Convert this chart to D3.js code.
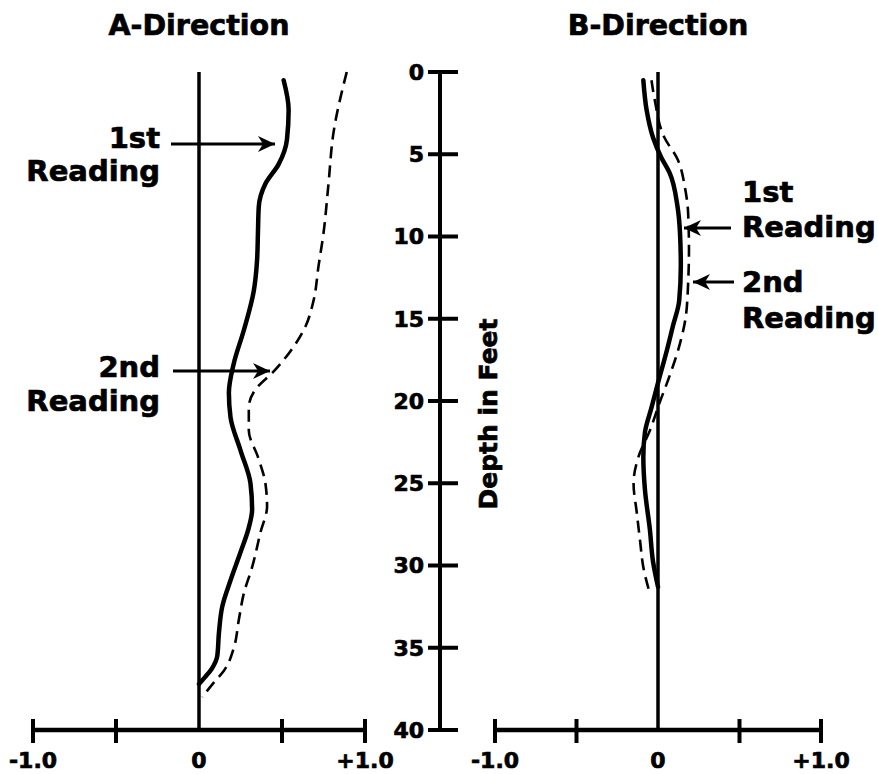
<!DOCTYPE html>
<html>
<head>
<meta charset="utf-8">
<script src="https://cdn.jsdelivr.net/npm/d3@7"></script>
<style>
  html, body { margin: 0; padding: 0; background: #fff; }
  svg { display: block; }
  text { font-family: "DejaVu Sans", sans-serif; font-weight: bold; fill: #000; stroke: #000; stroke-width: 0.7px; }
</style>
</head>
<body>
<svg id="chart" width="878" height="774"></svg>
<script>
// ---------- DATA ----------
const panelTitles = ["A-Direction", "B-Direction"];
const depthTicks = [0, 5, 10, 15, 20, 25, 30, 35, 40];
const xTicks = [-1, -0.5, 0, 0.5, 1];
const xTickLabels = ["-1.0", "", "0", "", "+1.0"];
const depthLabel = "Depth in Feet";

// A-Direction, 1st reading (solid)
const aFirstDepth = [0.5, 2.3, 4.1, 5.6, 6.8, 8.2, 9.8, 11.4, 13.3, 15.7, 17.7, 19.5, 21.0, 23.0, 25.0, 26.6, 27.7, 29.2, 30.9, 32.5, 34.1, 35.5, 36.3, 36.8, 37.2];
const aFirstValue = [0.51, 0.54, 0.53, 0.48, 0.40, 0.36, 0.355, 0.35, 0.33, 0.27, 0.21, 0.18, 0.19, 0.25, 0.31, 0.32, 0.30, 0.25, 0.19, 0.14, 0.12, 0.11, 0.075, 0.035, 0.0];
// A-Direction, 2nd reading (dashed)
const aSecondDepth = [0, 3.7, 6.8, 9.8, 11.8, 13.9, 15.5, 16.7, 18.2, 19.3, 20.4, 21.8, 23.4, 25.0, 26.4, 28.0, 30.1, 31.7, 33.3, 35.0, 36.4, 37.1, 38.0];
const aSecondValue = [0.89, 0.81, 0.78, 0.75, 0.72, 0.69, 0.64, 0.57, 0.45, 0.34, 0.30, 0.30, 0.355, 0.40, 0.41, 0.37, 0.32, 0.27, 0.24, 0.21, 0.15, 0.09, 0.02];
// B-Direction, 1st reading (solid)
const bFirstDepth = [0.5, 2.3, 4.0, 5.2, 6.1, 8.2, 9.8, 11.8, 13.9, 15.5, 16.9, 18.9, 20.4, 21.9, 23.4, 25.4, 27.8, 29.8, 31.3];
const bFirstValue = [-0.09, -0.07, -0.03, 0.02, 0.07, 0.12, 0.135, 0.14, 0.13, 0.09, 0.055, 0.0, -0.04, -0.08, -0.09, -0.08, -0.05, -0.03, 0.0];
// B-Direction, 2nd reading (dashed)
const bSecondDepth = [0.5, 1.7, 4.0, 5.3, 7.0, 8.6, 10.8, 12.8, 14.9, 16.5, 18.5, 20.1, 21.8, 23.4, 25.0, 26.8, 28.5, 30.1, 31.7];
const bSecondValue = [-0.04, -0.02, 0.04, 0.12, 0.165, 0.185, 0.19, 0.185, 0.17, 0.135, 0.07, 0.01, -0.05, -0.12, -0.15, -0.13, -0.11, -0.09, -0.05];

// ---------- LAYOUT ----------
const svg = d3.select("#chart");
const y = d3.scaleLinear().domain([0, 40]).range([72, 730]);
const xA = d3.scaleLinear().domain([-1, 1]).range([33, 365]);
const xB = d3.scaleLinear().domain([-1, 1]).range([495, 821]);
const axisY = 730;

const defs = svg.append("defs");
defs.append("marker")
  .attr("id", "arrow")
  .attr("viewBox", "-20 -10 22 20")
  .attr("refX", 0).attr("refY", 0)
  .attr("markerUnits", "userSpaceOnUse")
  .attr("markerWidth", 22).attr("markerHeight", 20)
  .attr("orient", "auto")
  .append("path")
  .attr("d", "M0,0 L-17,-8 L-12,0 L-17,8 Z")
  .attr("fill", "#000");

function zip(ds, vs) { return ds.map((d, i) => ({ d, v: vs[i] })); }

function drawPanel(x, title, first, second) {
  const g = svg.append("g");
  const x0 = x(0);
  g.append("text").attr("x", (x.range()[0] + x.range()[1]) / 2).attr("y", 35)
    .attr("text-anchor", "middle").attr("font-size", 28.5).text(title);
  g.append("line").attr("x1", x0).attr("x2", x0).attr("y1", y(0)).attr("y2", y(40))
    .attr("stroke", "#000").attr("stroke-width", 3.5);
  g.append("line").attr("x1", x(-1)).attr("x2", x(1)).attr("y1", axisY).attr("y2", axisY)
    .attr("stroke", "#000").attr("stroke-width", 4.5);
  xTicks.forEach((t, i) => {
    if (t !== 0) {
      g.append("line").attr("x1", x(t)).attr("x2", x(t)).attr("y1", axisY - 11).attr("y2", axisY + 13)
        .attr("stroke", "#000").attr("stroke-width", 4);
    }
    if (xTickLabels[i]) {
      g.append("text").attr("x", x(t)).attr("y", 768).attr("text-anchor", "middle")
        .attr("font-size", 22).attr("stroke-width", 0.6).text(xTickLabels[i]);
    }
  });
  const line = d3.line().x(p => x(p.v)).y(p => y(p.d)).curve(d3.curveMonotoneY);
  g.append("path").datum(second).attr("d", line).attr("fill", "none")
    .attr("stroke", "#000").attr("stroke-width", 2.6).attr("stroke-dasharray", "12,7");
  g.append("path").datum(first).attr("d", line).attr("fill", "none")
    .attr("stroke", "#000").attr("stroke-width", 4.5).attr("stroke-linecap", "round");
  return g;
}

const gA = drawPanel(xA, panelTitles[0], zip(aFirstDepth, aFirstValue), zip(aSecondDepth, aSecondValue));
const gB = drawPanel(xB, panelTitles[1], zip(bFirstDepth, bFirstValue), zip(bSecondDepth, bSecondValue));

// depth axis
const gd = svg.append("g").attr("transform", "translate(440,0)");
gd.append("line").attr("x1", 0).attr("x2", 0).attr("y1", y(0)).attr("y2", y(40))
  .attr("stroke", "#000").attr("stroke-width", 4);
depthTicks.forEach(t => {
  gd.append("line").attr("x1", -12).attr("x2", 18).attr("y1", y(t)).attr("y2", y(t))
    .attr("stroke", "#000").attr("stroke-width", 4);
  gd.append("text").attr("x", -16).attr("y", y(t)).attr("dy", "0.36em")
    .attr("text-anchor", "end").attr("font-size", 22).attr("stroke-width", 0.6).text(t);
});
svg.append("text").attr("transform", "translate(497,414) rotate(-90)")
  .attr("text-anchor", "middle").attr("font-size", 25).text(depthLabel);

// annotations
function annot(g, lines, tx, anchor, baselines, ax1, ax2, ay) {
  lines.forEach((s, i) => {
    g.append("text").attr("x", tx).attr("y", baselines[i]).attr("text-anchor", anchor)
      .attr("font-size", 29).text(s);
  });
  g.append("line").attr("x1", ax1).attr("x2", ax2).attr("y1", ay).attr("y2", ay)
    .attr("stroke", "#000").attr("stroke-width", 3.2).attr("marker-end", "url(#arrow)");
}
annot(gA, ["1st", "Reading"], 160, "end", [148, 181], 171, 275, 144);
annot(gA, ["2nd", "Reading"], 160, "end", [377, 411], 173, 270, 371);
annot(gB, ["1st", "Reading"], 742, "start", [202, 237], 731, 684, 228);
annot(gB, ["2nd", "Reading"], 742, "start", [292, 328], 734, 693, 282);
</script>
</body>
</html>
